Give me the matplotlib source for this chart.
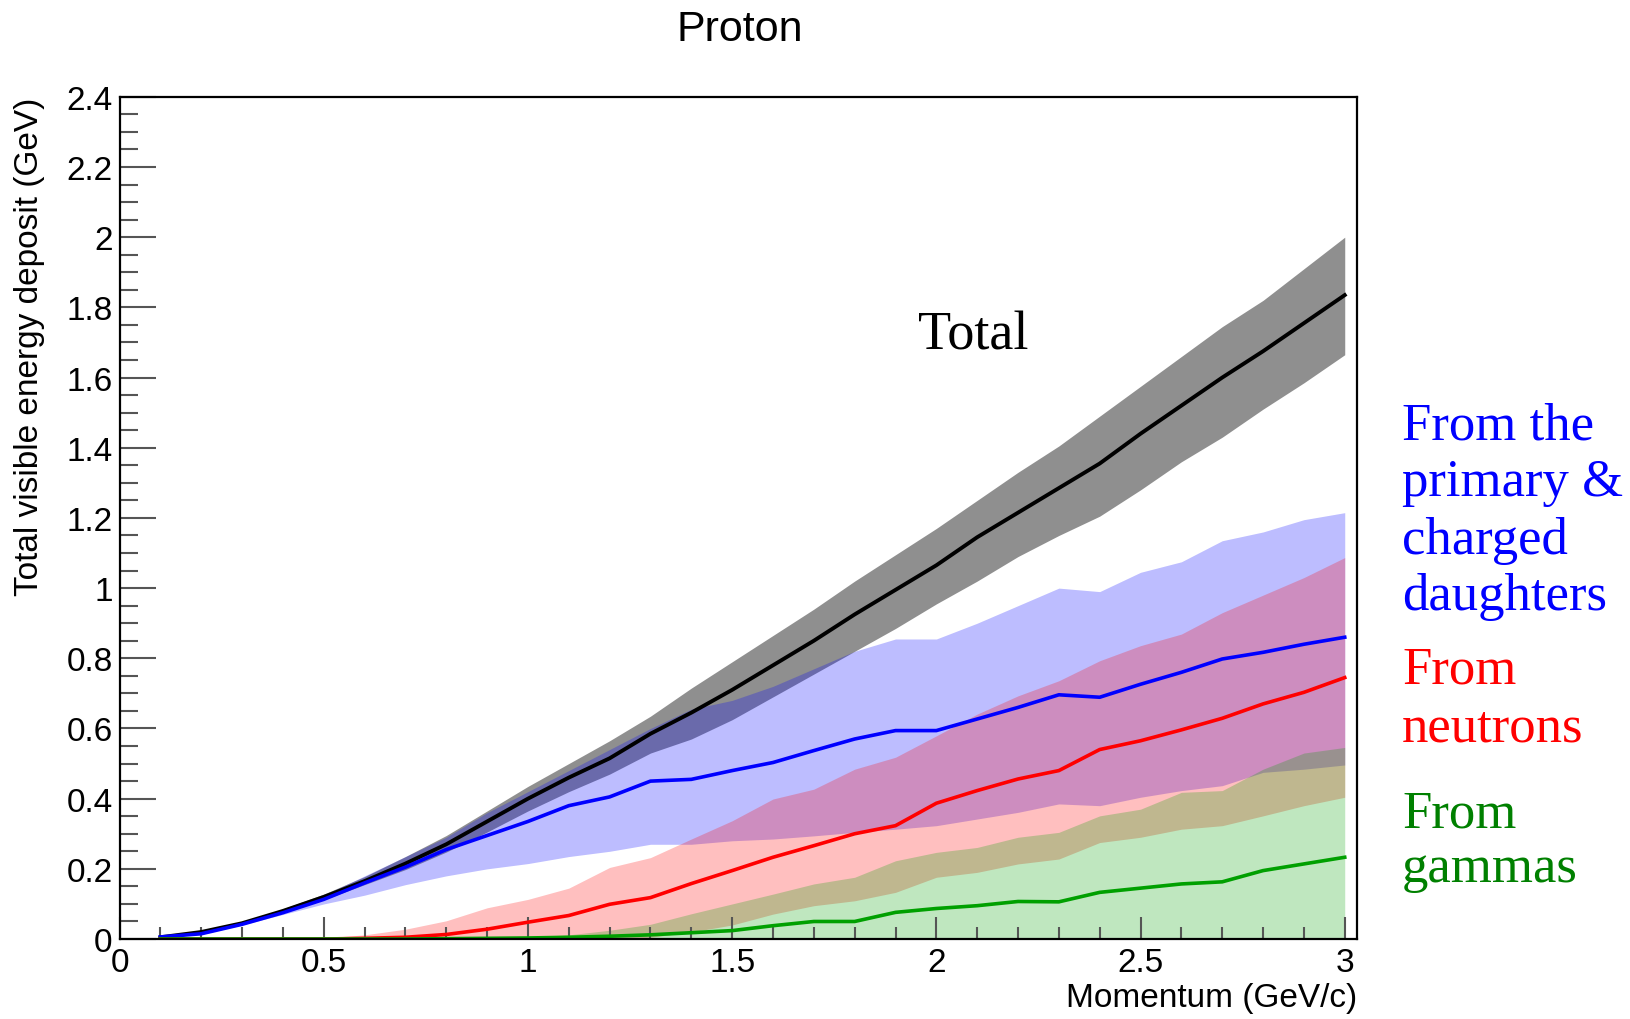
import matplotlib
matplotlib.use("Agg")
import matplotlib.pyplot as plt
from matplotlib.ticker import MultipleLocator, FuncFormatter

# Momentum points (GeV/c)
momentum = [0.1, 0.2, 0.3, 0.4, 0.5, 0.6, 0.7, 0.8, 0.9, 1.0,
            1.1, 1.2, 1.3, 1.4, 1.5, 1.6, 1.7, 1.8, 1.9, 2.0,
            2.1, 2.2, 2.3, 2.4, 2.5, 2.6, 2.7, 2.8, 2.9, 3.0]

# Total visible energy (mean and band)
total_mean = [0.005, 0.02, 0.045, 0.08, 0.12, 0.165, 0.215, 0.27, 0.335, 0.40,
              0.46, 0.515, 0.585, 0.645, 0.71, 0.78, 0.85, 0.925, 0.995, 1.065,
              1.145, 1.215, 1.285, 1.355, 1.44, 1.52, 1.60, 1.675, 1.755, 1.835]
total_hi = [0.006, 0.022, 0.048, 0.086, 0.128, 0.178, 0.235, 0.295, 0.365, 0.435,
            0.50, 0.565, 0.635, 0.715, 0.79, 0.865, 0.94, 1.02, 1.095, 1.17,
            1.25, 1.33, 1.405, 1.49, 1.575, 1.66, 1.745, 1.82, 1.91, 2.0]
total_lo = [0.004, 0.018, 0.042, 0.074, 0.112, 0.155, 0.198, 0.248, 0.305, 0.365,
            0.42, 0.47, 0.53, 0.57, 0.625, 0.69, 0.755, 0.82, 0.885, 0.955,
            1.02, 1.09, 1.15, 1.205, 1.28, 1.36, 1.43, 1.51, 1.585, 1.665]

# From the primary & charged daughters
charged_mean = [0.006, 0.015, 0.042, 0.075, 0.113, 0.16, 0.205, 0.255, 0.295, 0.335,
                0.38, 0.405, 0.45, 0.455, 0.48, 0.503, 0.537, 0.57, 0.594, 0.594,
                0.627, 0.66, 0.696, 0.689, 0.726, 0.76, 0.798, 0.817, 0.84, 0.86]
charged_hi = [0.007, 0.017, 0.046, 0.082, 0.125, 0.18, 0.235, 0.29, 0.36, 0.42,
              0.48, 0.54, 0.60, 0.655, 0.68, 0.72, 0.77, 0.82, 0.855, 0.855,
              0.90, 0.95, 1.0, 0.99, 1.045, 1.075, 1.135, 1.16, 1.195, 1.215]
charged_lo = [0.005, 0.013, 0.04, 0.07, 0.10, 0.125, 0.155, 0.18, 0.20, 0.215,
              0.235, 0.25, 0.27, 0.27, 0.28, 0.285, 0.294, 0.304, 0.313, 0.323,
              0.342, 0.361, 0.385, 0.38, 0.404, 0.423, 0.437, 0.475, 0.484, 0.496]

# From neutrons
neutron_mean = [0.0, 0.0, 0.0, 0.0, 0.0, 0.002, 0.005, 0.013, 0.028, 0.048,
                0.067, 0.099, 0.118, 0.158, 0.195, 0.233, 0.266, 0.30, 0.323, 0.387,
                0.423, 0.456, 0.48, 0.54, 0.565, 0.596, 0.629, 0.67, 0.703, 0.745]
neutron_hi = [0.0, 0.0, 0.0, 0.0, 0.003, 0.012, 0.028, 0.052, 0.089, 0.113,
              0.145, 0.204, 0.232, 0.285, 0.337, 0.399, 0.427, 0.484, 0.518, 0.579,
              0.641, 0.693, 0.736, 0.793, 0.836, 0.869, 0.93, 0.98, 1.03, 1.087]
neutron_lo = [0.0, 0.0, 0.0, 0.0, 0.0, 0.0, 0.0, 0.0, 0.0, 0.0,
              0.0, 0.0, 0.005, 0.02, 0.04, 0.071, 0.095, 0.109, 0.133, 0.176,
              0.19, 0.214, 0.228, 0.275, 0.29, 0.313, 0.323, 0.351, 0.38, 0.404]

# From gammas
gamma_mean = [0.0, 0.0, 0.0, 0.0, 0.0, 0.0, 0.0, 0.001, 0.002, 0.003,
              0.005, 0.008, 0.012, 0.018, 0.024, 0.038, 0.05, 0.05, 0.076, 0.087,
              0.095, 0.107, 0.106, 0.133, 0.145, 0.157, 0.163, 0.195, 0.214, 0.233]
gamma_hi = [0.0, 0.0, 0.0, 0.0, 0.0, 0.0, 0.0, 0.0, 0.003, 0.006,
            0.012, 0.025, 0.042, 0.072, 0.10, 0.128, 0.157, 0.176, 0.223, 0.247,
            0.261, 0.29, 0.304, 0.351, 0.37, 0.418, 0.423, 0.484, 0.53, 0.546]
gamma_lo = [0.0] * 30

fig = plt.figure(figsize=(16.31, 10.20), dpi=100)
ax = fig.add_axes([0.0733, 0.0784, 0.7587, 0.8257])

# bands and central lines, drawn in layers like the original
ax.fill_between(momentum, total_lo, total_hi, color="#8f8f8f", linewidth=0)
ax.plot(momentum, total_mean, color="black", lw=2.8)
ax.fill_between(momentum, charged_lo, charged_hi, color="blue", alpha=0.26, linewidth=0)
ax.plot(momentum, charged_mean, color="blue", lw=2.6)
ax.fill_between(momentum, neutron_lo, neutron_hi, color="red", alpha=0.25, linewidth=0)
ax.plot(momentum, neutron_mean, color="red", lw=2.6)
ax.fill_between(momentum, gamma_lo, gamma_hi, color="#00a000", alpha=0.25, linewidth=0)
ax.plot(momentum, gamma_mean, color="#00a000", lw=2.6)

ax.set_xlim(0, 3.03)
ax.set_ylim(0, 2.4)

# ROOT-like axis styling
ax.xaxis.set_major_locator(MultipleLocator(0.5))
ax.xaxis.set_minor_locator(MultipleLocator(0.1))
ax.yaxis.set_major_locator(MultipleLocator(0.2))
ax.yaxis.set_minor_locator(MultipleLocator(0.05))
fmt = FuncFormatter(lambda v, p: "%g" % round(v, 2))
ax.xaxis.set_major_formatter(fmt)
ax.yaxis.set_major_formatter(fmt)
ax.tick_params(axis="x", which="major", direction="in", length=16, width=1.5,
               color="#555555", labelsize=24, pad=6)
ax.tick_params(axis="x", which="minor", direction="in", length=8.5, width=1.5,
               color="#555555")
ax.tick_params(axis="y", which="major", direction="in", length=26, width=1.5,
               color="#555555", labelsize=24, pad=5)
ax.tick_params(axis="y", which="minor", direction="in", length=13, width=1.5,
               color="#555555")
for lab in ax.get_xticklabels() + ax.get_yticklabels():
    lab.set_family("Liberation Sans")
for sp in ax.spines.values():
    sp.set_linewidth(1.6)

fig.text(0.018, 0.904, "Total visible energy deposit (GeV)", rotation=90,
         ha="center", va="top", fontsize=24, family="Liberation Sans")
fig.text(0.832, 0.0206, "Momentum (GeV/c)", ha="right", va="center",
         fontsize=24, family="Liberation Sans")
fig.text(0.4535, 0.971, "Proton", ha="center", va="center", fontsize=31,
         family="Liberation Sans")

ax.text(1.955, 1.72, "Total", ha="left", va="center", fontsize=39,
        family="Liberation Serif", color="black")

labels = [("From the", 426, "blue"), ("primary &", 483, "blue"),
          ("charged", 541, "blue"), ("daughters", 597, "blue"),
          ("From", 671, "red"), ("neutrons", 728, "red"),
          ("From", 814, "green"), ("gammas", 869, "green")]
for txt, ypix, col in labels:
    fig.text(1402 / 1631, 1 - ypix / 1020, txt, ha="left", va="center",
             fontsize=38, family="Liberation Serif", color=col)

fig.savefig("out.png", dpi=100)
